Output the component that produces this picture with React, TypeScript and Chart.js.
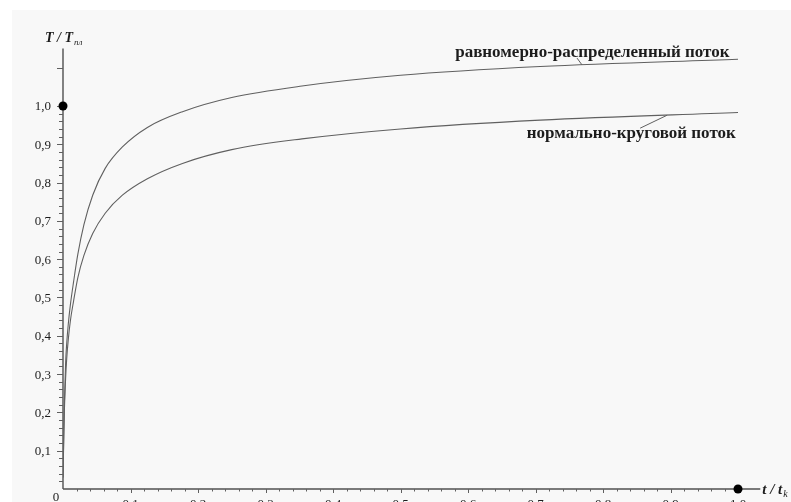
import React, { useEffect, useRef } from "react";
import { Chart, registerables } from "chart.js";

Chart.register(...registerables);

// Sample times t/tk shared by both curves
const sampleTime = [0, 0.001, 0.002, 0.0039, 0.0055, 0.0078, 0.011, 0.0156, 0.022, 0.031, 0.044, 0.0625, 0.088, 0.125, 0.177, 0.25, 0.354, 0.5, 0.707, 1.0];

// Relative temperature T/Tпл, uniformly distributed flux
const uniformTemp = [0.03, 0.13, 0.22, 0.33, 0.38, 0.43, 0.482, 0.54, 0.613, 0.69, 0.767, 0.837, 0.893, 0.944, 0.985, 1.022, 1.052, 1.08, 1.103, 1.122];

// Relative temperature T/Tпл, normal-circular flux
const circularTemp = [0.03, 0.12, 0.2, 0.29, 0.34, 0.39, 0.44, 0.49, 0.552, 0.61, 0.667, 0.72, 0.767, 0.81, 0.85, 0.886, 0.914, 0.94, 0.963, 0.983];

// Marked reference points on the axes
const markerTime = [0, 1.0];
const markerTemp = [1.0, 0];

// Labelled ticks
const xTickValues = [0.1, 0.2, 0.3, 0.4, 0.5, 0.6, 0.7, 0.8, 0.9, 1.0];
const xTickLabels = ["0,1", "0,2", "0,3", "0,4", "0,5", "0,6", "0,7", "0,8", "0,9", "1,0"];
const yTickValues = [0.1, 0.2, 0.3, 0.4, 0.5, 0.6, 0.7, 0.8, 0.9, 1.0];
const yTickLabels = ["0,1", "0,2", "0,3", "0,4", "0,5", "0,6", "0,7", "0,8", "0,9", "1,0"];

// Curve captions
const uniformCaption = "равномерно-распределенный поток";
const circularCaption = "нормально-круговой поток";

const SERIF = '"Liberation Serif", "Times New Roman", serif';
const X_MAX = 1.0;
const X_AXIS_END = 1.033;
const Y_MAX = 1.15;

function valueAt(ts: number[], vs: number[], t: number): number {
  for (let i = 1; i < ts.length; i++) {
    if (t <= ts[i]) {
      const k = (t - ts[i - 1]) / (ts[i] - ts[i - 1]);
      return vs[i - 1] + k * (vs[i] - vs[i - 1]);
    }
  }
  return vs[vs.length - 1];
}

const zip = (ts: number[], vs: number[]) => ts.map((t, i) => ({ x: t, y: vs[i] }));

const decorPlugin = {
  id: "decor",
  beforeDraw(chart: any) {
    const { ctx, width, height } = chart;
    ctx.save();
    ctx.fillStyle = "#ffffff";
    ctx.fillRect(0, 0, width, height);
    ctx.fillStyle = "#f8f8f8";
    ctx.fillRect(12, 10, width - 12, height - 10);
    ctx.restore();
  },
  beforeDatasetsDraw(chart: any) {
    const { ctx } = chart;
    const xs = chart.scales.x;
    const ys = chart.scales.y;
    const x0 = xs.getPixelForValue(0);
    const y0 = ys.getPixelForValue(0);
    ctx.save();
    ctx.strokeStyle = "#505050";
    ctx.lineWidth = 1.4;
    ctx.beginPath();
    ctx.moveTo(x0, y0);
    ctx.lineTo(x0, ys.getPixelForValue(Y_MAX));
    ctx.moveTo(x0, y0);
    ctx.lineTo(xs.getPixelForValue(X_AXIS_END), y0);
    ctx.stroke();

    ctx.lineWidth = 1;
    ctx.strokeStyle = "#606060";
    ctx.beginPath();
    for (let i = 1; i <= 50; i++) {
      const major = i % 5 === 0;
      const py = Math.round(ys.getPixelForValue(i / 50)) + 0.5;
      ctx.moveTo(x0 - (major ? 6 : 4), py);
      ctx.lineTo(x0, py);
      const px = Math.round(xs.getPixelForValue(i / 50)) + 0.5;
      ctx.moveTo(px, y0);
      ctx.lineTo(px, y0 + (major ? 4 : 2.5));
    }
    const p11 = Math.round(ys.getPixelForValue(1.1)) + 0.5;
    ctx.moveTo(x0 - 6, p11);
    ctx.lineTo(x0, p11);
    ctx.stroke();
    ctx.restore();
  },
  afterDraw(chart: any) {
    const { ctx } = chart;
    const xs = chart.scales.x;
    const ys = chart.scales.y;
    const x0 = xs.getPixelForValue(0);
    const y0 = ys.getPixelForValue(0);
    ctx.save();
    ctx.fillStyle = "#1c1c1c";

    // tick labels
    ctx.font = `13px ${SERIF}`;
    ctx.textAlign = "right";
    ctx.textBaseline = "middle";
    yTickValues.forEach((v, i) => {
      ctx.fillText(yTickLabels[i], x0 - 12, ys.getPixelForValue(v) + 1);
    });
    ctx.textAlign = "center";
    ctx.textBaseline = "top";
    xTickValues.forEach((v, i) => {
      ctx.fillText(xTickLabels[i], xs.getPixelForValue(v), y0 + 9);
    });
    ctx.textBaseline = "middle";
    ctx.fillText("0", x0 - 7, y0 + 9);

    // axis titles
    ctx.textAlign = "left";
    ctx.textBaseline = "alphabetic";
    ctx.font = `italic bold 14px ${SERIF}`;
    const yTitle = "T / T";
    const yTitleX = x0 - 18;
    const yTitleBase = ys.getPixelForValue(Y_MAX) - 7;
    ctx.fillText(yTitle, yTitleX, yTitleBase);
    const yw = ctx.measureText(yTitle).width;
    ctx.font = `italic 9px ${SERIF}`;
    ctx.fillText("пл", yTitleX + yw + 1, yTitleBase + 3);

    ctx.font = `italic bold 15px ${SERIF}`;
    const xTitle = "t / t";
    const xTitleX = xs.getPixelForValue(X_AXIS_END) + 2;
    ctx.fillText(xTitle, xTitleX, y0 + 5);
    const xw = ctx.measureText(xTitle).width;
    ctx.font = `italic 10px ${SERIF}`;
    ctx.fillText("k", xTitleX + xw + 1, y0 + 8);

    // curve captions with leader lines
    ctx.font = `bold 17px ${SERIF}`;
    ctx.textBaseline = "alphabetic";
    ctx.fillText(uniformCaption, xs.getPixelForValue(0.581), ys.getPixelForValue(1.129));
    ctx.fillText(circularCaption, xs.getPixelForValue(0.687), ys.getPixelForValue(0.917));

    ctx.strokeStyle = "#606060";
    ctx.lineWidth = 1;
    ctx.beginPath();
    ctx.moveTo(xs.getPixelForValue(0.7615), ys.getPixelForValue(1.125));
    ctx.lineTo(xs.getPixelForValue(0.769), ys.getPixelForValue(valueAt(sampleTime, uniformTemp, 0.769)));
    ctx.moveTo(xs.getPixelForValue(0.855), ys.getPixelForValue(0.942));
    ctx.lineTo(xs.getPixelForValue(0.895), ys.getPixelForValue(valueAt(sampleTime, circularTemp, 0.895)));
    ctx.stroke();
    ctx.restore();
  },
};

export default function App() {
  const canvasRef = useRef<HTMLCanvasElement | null>(null);

  useEffect(() => {
    if (!canvasRef.current) return;
    const chart = new Chart(canvasRef.current, {
      type: "scatter",
      data: {
        datasets: [
          {
            data: zip(markerTime, markerTemp),
            showLine: false,
            pointRadius: 4.5,
            pointBackgroundColor: "#000000",
            pointBorderColor: "#000000",
            pointBorderWidth: 0,
            clip: false,
          },
          {
            data: zip(sampleTime, uniformTemp),
            showLine: true,
            borderColor: "#606060",
            borderWidth: 1.1,
            pointRadius: 0,
            cubicInterpolationMode: "monotone",
          },
          {
            data: zip(sampleTime, circularTemp),
            showLine: true,
            borderColor: "#606060",
            borderWidth: 1.1,
            pointRadius: 0,
            cubicInterpolationMode: "monotone",
          },
        ],
      } as any,
      options: {
        animation: false,
        responsive: false,
        devicePixelRatio: 1,
        layout: { padding: { left: 63, right: 53, top: 48.5, bottom: 31 } },
        scales: {
          x: { type: "linear", min: 0, max: X_MAX, display: false },
          y: { type: "linear", min: 0, max: Y_MAX, display: false },
        },
        plugins: { legend: { display: false }, tooltip: { enabled: false } },
        events: [],
      },
      plugins: [decorPlugin],
    });
    return () => chart.destroy();
  }, []);

  return (
    <div style={{ position: "absolute", left: 0, top: 0, width: 791, height: 502, overflow: "hidden", background: "#ffffff" }}>
      <canvas ref={canvasRef} width={791} height={520} style={{ display: "block" }} />
    </div>
  );
}
